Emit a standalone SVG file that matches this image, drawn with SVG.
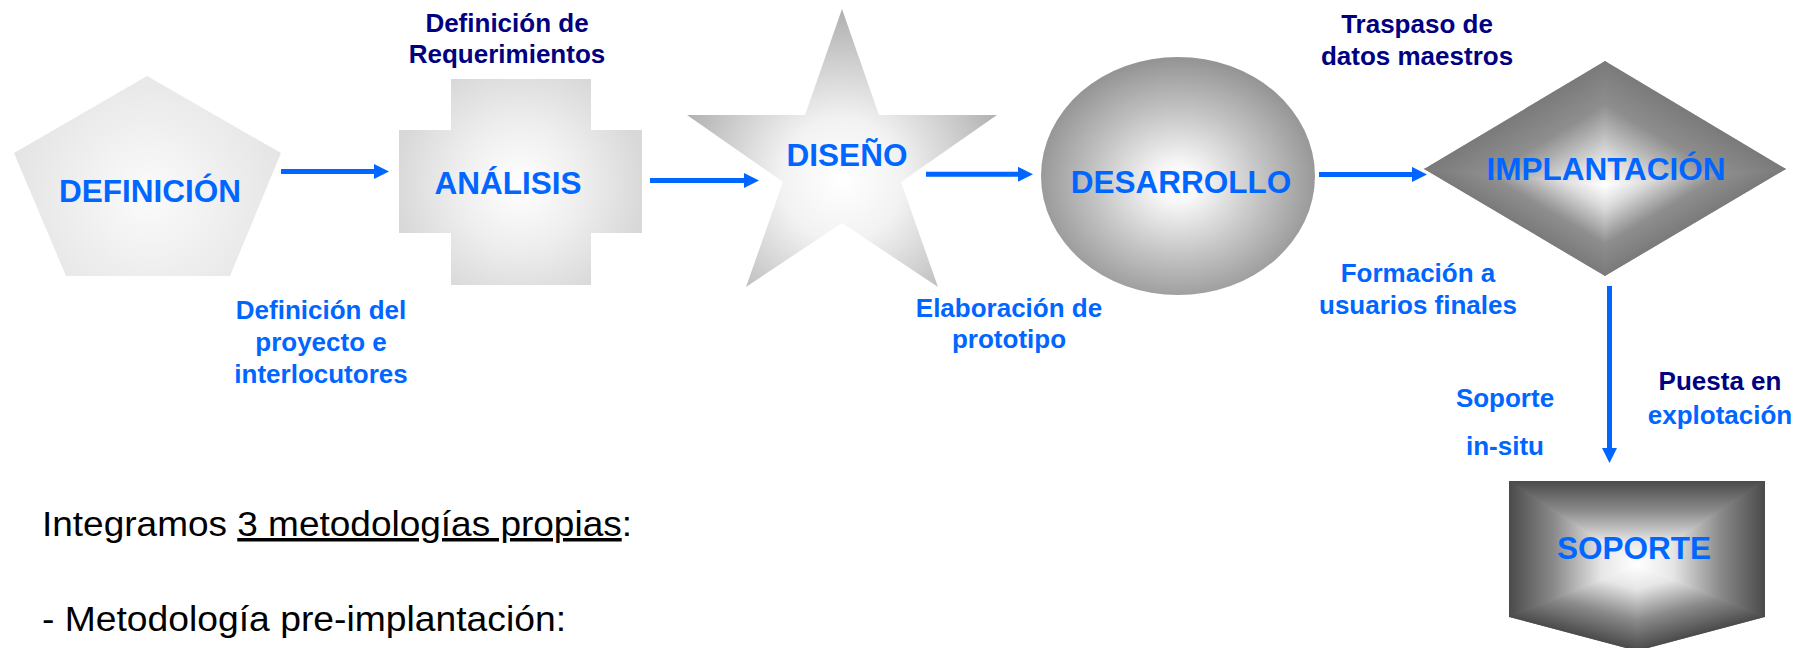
<svg xmlns="http://www.w3.org/2000/svg" width="1805" height="648" viewBox="0 0 1805 648">
<style>
.big{font-family:"Liberation Sans",Arial,sans-serif;font-weight:bold;font-size:31.5px;fill:#0066FF;text-anchor:middle}
.lbl{font-family:"Liberation Sans",Arial,sans-serif;font-weight:bold;font-size:26px;text-anchor:middle}
.blue{fill:#0066FF}
.navy{fill:#000080}
.body{font-family:"Liberation Sans",Arial,sans-serif;font-size:35px;fill:#000}
.conn{stroke:#0066FF;stroke-width:5;fill:none;marker-end:url(#ah)}
</style>
<defs>
<marker id="ah" markerUnits="userSpaceOnUse" markerWidth="16" markerHeight="16" refX="0" refY="7.5" orient="auto">
<path d="M0,0 L15,7.5 L0,15 Z" fill="#0066FF"/>
</marker>
<radialGradient id="gPent" gradientUnits="userSpaceOnUse" cx="150" cy="195" r="140">
<stop offset="0" stop-color="#fbfbfb"/><stop offset="1" stop-color="#e4e4e4"/>
</radialGradient>
<radialGradient id="gCross" gradientUnits="userSpaceOnUse" cx="520" cy="185" r="125">
<stop offset="0" stop-color="#ffffff"/><stop offset="0.5" stop-color="#eeeeee"/><stop offset="1" stop-color="#d8d8d8"/>
</radialGradient>
<radialGradient id="gStar" gradientUnits="userSpaceOnUse" cx="842" cy="180" r="175">
<stop offset="0" stop-color="#ffffff"/><stop offset="0.35" stop-color="#f2f2f2"/><stop offset="1" stop-color="#acacac"/>
</radialGradient>
<radialGradient id="gEll" cx="0.5" cy="0.53" r="0.52">
<stop offset="0" stop-color="#ffffff"/><stop offset="0.15" stop-color="#f8f8f8"/><stop offset="0.6" stop-color="#c2c2c2"/><stop offset="1" stop-color="#959595"/>
</radialGradient>
<linearGradient id="dTR" gradientUnits="userSpaceOnUse" x1="1659.6" y1="93.6" x2="1605" y2="185"><stop offset="0" stop-color="#7a7a7a"/><stop offset="0.35" stop-color="#8e8e8e"/><stop offset="0.75" stop-color="#dcdcdc"/><stop offset="1" stop-color="#ffffff"/></linearGradient>
<linearGradient id="dRB" gradientUnits="userSpaceOnUse" x1="1644.9" y1="252.4" x2="1605" y2="185"><stop offset="0" stop-color="#7a7a7a"/><stop offset="0.35" stop-color="#8e8e8e"/><stop offset="0.75" stop-color="#dcdcdc"/><stop offset="1" stop-color="#ffffff"/></linearGradient>
<linearGradient id="dBL" gradientUnits="userSpaceOnUse" x1="1565.1" y1="252.4" x2="1605" y2="185"><stop offset="0" stop-color="#7a7a7a"/><stop offset="0.35" stop-color="#8e8e8e"/><stop offset="0.75" stop-color="#dcdcdc"/><stop offset="1" stop-color="#ffffff"/></linearGradient>
<linearGradient id="dLT" gradientUnits="userSpaceOnUse" x1="1550.4" y1="93.6" x2="1605" y2="185"><stop offset="0" stop-color="#7a7a7a"/><stop offset="0.35" stop-color="#8e8e8e"/><stop offset="0.75" stop-color="#dcdcdc"/><stop offset="1" stop-color="#ffffff"/></linearGradient>
<linearGradient id="sT" gradientUnits="userSpaceOnUse" x1="1637" y1="481" x2="1637" y2="565"><stop offset="0" stop-color="#4a4a4a"/><stop offset="0.35" stop-color="#8a8a8a"/><stop offset="0.72" stop-color="#e6e6e6"/><stop offset="1" stop-color="#ffffff"/></linearGradient>
<linearGradient id="sL" gradientUnits="userSpaceOnUse" x1="1509" y1="565" x2="1637" y2="565"><stop offset="0" stop-color="#4a4a4a"/><stop offset="0.35" stop-color="#8a8a8a"/><stop offset="0.72" stop-color="#e6e6e6"/><stop offset="1" stop-color="#ffffff"/></linearGradient>
<linearGradient id="sR" gradientUnits="userSpaceOnUse" x1="1765" y1="565" x2="1637" y2="565"><stop offset="0" stop-color="#4a4a4a"/><stop offset="0.35" stop-color="#8a8a8a"/><stop offset="0.72" stop-color="#e6e6e6"/><stop offset="1" stop-color="#ffffff"/></linearGradient>
<linearGradient id="sBL" gradientUnits="userSpaceOnUse" x1="1615.7" y1="645.3" x2="1637" y2="565"><stop offset="0" stop-color="#4a4a4a"/><stop offset="0.35" stop-color="#8a8a8a"/><stop offset="0.72" stop-color="#e6e6e6"/><stop offset="1" stop-color="#ffffff"/></linearGradient>
<linearGradient id="sBR" gradientUnits="userSpaceOnUse" x1="1658.3" y1="645.3" x2="1637" y2="565"><stop offset="0" stop-color="#4a4a4a"/><stop offset="0.35" stop-color="#8a8a8a"/><stop offset="0.72" stop-color="#e6e6e6"/><stop offset="1" stop-color="#ffffff"/></linearGradient>
<clipPath id="cDia"><polygon points="1605,61 1786,169 1605,276 1424,169"/></clipPath>
<clipPath id="cSop"><polygon points="1509,481 1765,481 1765,617 1637,651 1509,617"/></clipPath>
</defs>

<g id="connectors">
<line class="conn" x1="281" y1="171.5" x2="374" y2="171.5"/>
<line class="conn" x1="650" y1="180.5" x2="744" y2="180.5"/>
<line class="conn" x1="926" y1="174.3" x2="1018" y2="174.3"/>
<line class="conn" x1="1319" y1="174.4" x2="1412" y2="174.4"/>
<line class="conn" x1="1609.5" y1="286" x2="1609.5" y2="448"/>
</g>

<g id="definicion">
<polygon points="147,76 281,153 230,276 66,276 14,153" fill="url(#gPent)"/>
<text class="big" x="150" y="202">DEFINICIÓN</text>
</g>

<g id="analisis">
<path d="M451,79 H591 V130 H642 V233 H591 V285 H451 V233 H399 V130 H451 Z" fill="url(#gCross)"/>
<text class="big" x="508" y="194">ANÁLISIS</text>
</g>

<g id="diseno">
<polygon points="842,9 879,115 997,115 901,182 938,287 842,223 746,287 783,182 687,115 805,115" fill="url(#gStar)"/>
<text class="big" x="847" y="166">DISEÑO</text>
</g>

<g id="desarrollo">
<ellipse cx="1178" cy="176" rx="137" ry="119" fill="url(#gEll)"/>
<text class="big" x="1181" y="193">DESARROLLO</text>
</g>

<g id="implantacion">
<g clip-path="url(#cDia)">
<polygon points="1605,61 1786,169 1605,185" fill="url(#dTR)" stroke="url(#dTR)" stroke-width="1"/>
<polygon points="1786,169 1605,276 1605,185" fill="url(#dRB)" stroke="url(#dRB)" stroke-width="1"/>
<polygon points="1605,276 1424,169 1605,185" fill="url(#dBL)" stroke="url(#dBL)" stroke-width="1"/>
<polygon points="1424,169 1605,61 1605,185" fill="url(#dLT)" stroke="url(#dLT)" stroke-width="1"/>
</g>
<text class="big" x="1606" y="180">IMPLANTACIÓN</text>
</g>

<g id="soporte">
<g clip-path="url(#cSop)">
<polygon points="1509,481 1765,481 1637,565" fill="url(#sT)" stroke="url(#sT)" stroke-width="1"/>
<polygon points="1509,481 1637,565 1509,617" fill="url(#sL)" stroke="url(#sL)" stroke-width="1"/>
<polygon points="1765,481 1765,617 1637,565" fill="url(#sR)" stroke="url(#sR)" stroke-width="1"/>
<polygon points="1509,617 1637,651 1637,565" fill="url(#sBL)" stroke="url(#sBL)" stroke-width="1"/>
<polygon points="1637,651 1765,617 1637,565" fill="url(#sBR)" stroke="url(#sBR)" stroke-width="1"/>
</g>
<text class="big" x="1634" y="559">SOPORTE</text>
</g>

<g id="labels">
<text class="lbl navy" x="507" y="32">Definición de</text>
<text class="lbl navy" x="507" y="63">Requerimientos</text>
<text class="lbl blue" x="321" y="319">Definición del</text>
<text class="lbl blue" x="321" y="351">proyecto e</text>
<text class="lbl blue" x="321" y="383">interlocutores</text>
<text class="lbl blue" x="1009" y="317">Elaboración de</text>
<text class="lbl blue" x="1009" y="348">prototipo</text>
<text class="lbl navy" x="1417" y="33">Traspaso de</text>
<text class="lbl navy" x="1417" y="65">datos maestros</text>
<text class="lbl blue" x="1418" y="282">Formación a</text>
<text class="lbl blue" x="1418" y="314">usuarios finales</text>
<text class="lbl blue" x="1505" y="407">Soporte</text>
<text class="lbl blue" x="1505" y="455">in-situ</text>
<text class="lbl navy" x="1720" y="390">Puesta en</text>
<text class="lbl blue" x="1720" y="424">explotación</text>
</g>

<g id="texto">
<text class="body" x="42" y="536" textLength="590" lengthAdjust="spacingAndGlyphs">Integramos <tspan text-decoration="underline">3 metodologías propias</tspan>:</text>
<text class="body" x="42" y="631" textLength="524" lengthAdjust="spacingAndGlyphs">- Metodología pre-implantación:</text>
</g>
</svg>
